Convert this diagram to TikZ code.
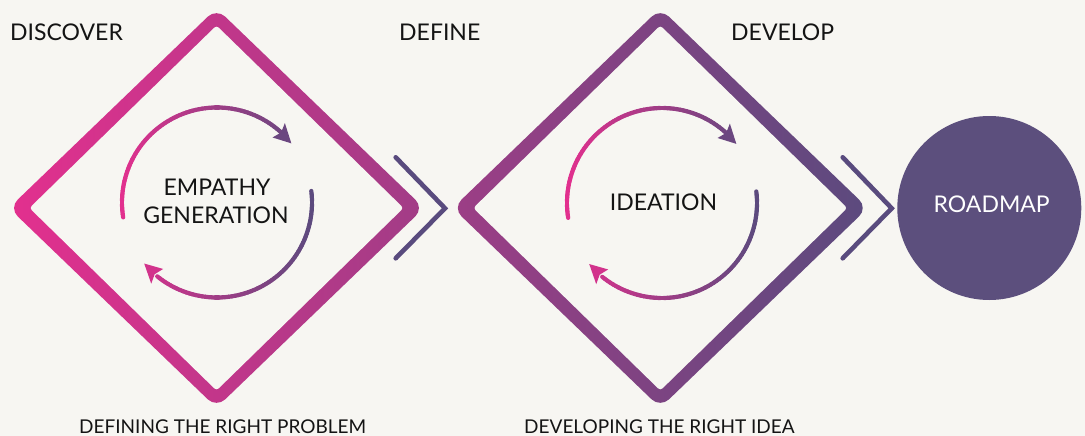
\documentclass[tikz,border=0pt]{standalone}
\usepackage{fontspec}
\setmainfont{Lato}
\definecolor{bg}{HTML}{F7F6F2}
\definecolor{pinkC}{HTML}{E2308E}
\definecolor{purpC}{HTML}{5C4A7E}
\definecolor{chev}{HTML}{594B7E}
\definecolor{road}{HTML}{5C4F7D}
\definecolor{txt}{HTML}{141414}
\newcommand\cyclearrows[2]{%
  \begin{scope}[shift={(#1,#2)}]
    \foreach \a in {189,187,...,47}{%
      \pgfmathsetmacro\pp{50*(1+cos(\a-1))}%
      \draw[arcline, color=purpC!\pp!pinkC] ({95*cos(\a)},{-95*sin(\a)}) -- ({95*cos(\a-2)},{-95*sin(\a-2)});
    }
    \foreach \a in {7,5,...,-127}{%
      \pgfmathsetmacro\pp{50*(1+cos(\a-1))}%
      \draw[arcline, color=purpC!\pp!pinkC] ({95*cos(\a)},{-95*sin(\a)}) -- ({95*cos(\a-2)},{-95*sin(\a-2)});
    }
    \fill[purpC!89!pinkC] ({95*cos(38.5)},{-95*sin(38.5)}) -- ({104.5*cos(49.5)},{-104.5*sin(49.5)}) -- ({95*cos(47.5)},{-95*sin(47.5)}) -- ({85.5*cos(49.5)},{-85.5*sin(49.5)}) -- cycle;
    \fill[purpC!12!pinkC] ({95*cos(-140)},{-95*sin(-140)}) -- ({104.5*cos(-129)},{-104.5*sin(-129)}) -- ({95*cos(-131)},{-95*sin(-131)}) -- ({85.5*cos(-129)},{-85.5*sin(-129)}) -- cycle;
  \end{scope}}
\begin{document}
\begin{tikzpicture}[x=1pt,y=-1pt,
  arcline/.style={line width=4.2pt, line cap=round},
  chevst/.style={draw=chev, line width=4.6pt, line cap=round, miter limit=10},
  lbl/.style={inner sep=0pt, text=txt, font=\fontsize{23}{26}\selectfont},
  sublbl/.style={inner sep=0pt, text=txt, font=\fontsize{19}{22}\selectfont, anchor=base west}]
\fill[bg] (0,0) rectangle (1085,436);
\useasboundingbox (0,0) rectangle (1085,436);
% diamonds (gradient bands)
\begin{scope}
  \clip[rounded corners=12pt]
    (112.75,307.85) -- (9,208) -- (216.5,8.3) -- (424,208) -- (216.5,407.7) -- cycle
    (556.55,307.85) -- (452.8,208) -- (660.3,8.3) -- (867.8,208) -- (660.3,407.7) -- cycle;
  \shade[left color=pinkC, right color=purpC] (13,0) rectangle (863,436);
\end{scope}
\fill[bg, rounded corners=3pt]
  (123,299.25) -- (29.5,208) -- (216.5,25.5) -- (403.5,208) -- (216.5,390.5) -- cycle
  (566.8,299.25) -- (473.3,208) -- (660.3,25.5) -- (847.3,208) -- (660.3,390.5) -- cycle;
% chevrons
\draw[chevst] (395.7,157.3) -- (445,208.3) -- (395.7,258.3);
\draw[chevst] (842.7,157.3) -- (891.7,208.3) -- (842.7,258.3);
% roadmap circle
\fill[road] (989.3,208) circle[radius=92];
% circular arrows
\cyclearrows{217}{202.5}
\cyclearrows{662}{203}
% labels
\node[lbl, anchor=base west] (discover) at (10,41) {DISCOVER};
\node[lbl, anchor=base west] (define) at (399,41) {DEFINE};
\node[lbl, anchor=base west] (develop) at (731,41) {DEVELOP};
\node[lbl, anchor=base] (empathy) at (217,195) {EMPATHY};
\node[lbl, anchor=base] (generation) at (216,223) {GENERATION};
\node[lbl, anchor=base] (ideation) at (663.5,210) {IDEATION};
\node[lbl, anchor=base, text=white] (roadmap) at (991.7,212.7) {ROADMAP};
\node[sublbl] (problem) at (79,433.5) {DEFINING THE RIGHT PROBLEM};
\node[sublbl] (idea) at (524,433.5) {DEVELOPING THE RIGHT IDEA};
\end{tikzpicture}
\end{document}
